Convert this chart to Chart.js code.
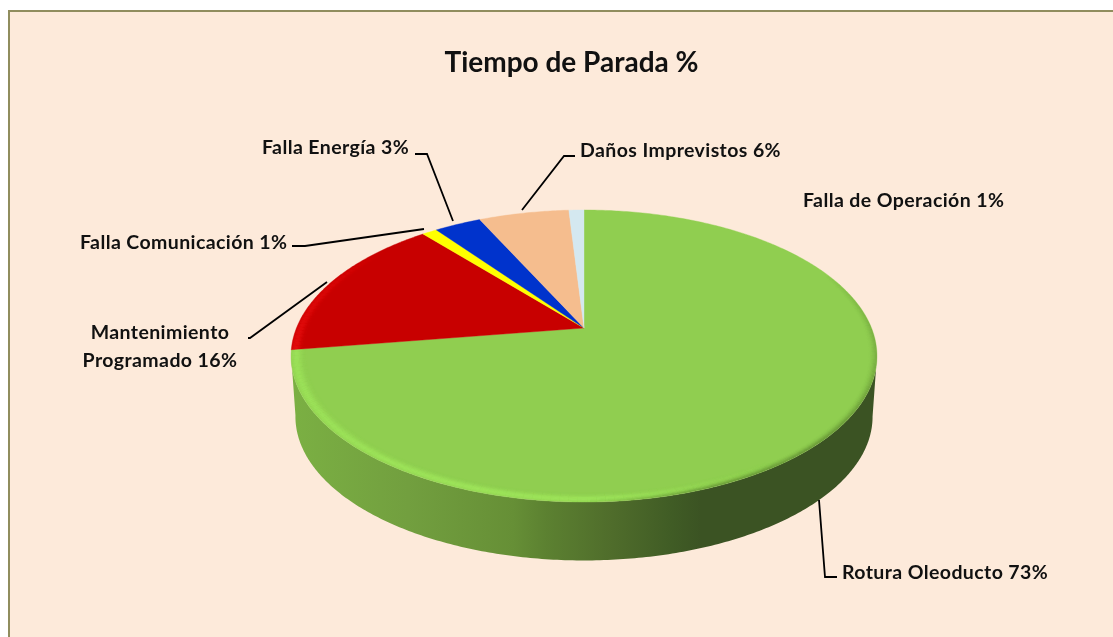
<!DOCTYPE html>
<html lang="es"><head><meta charset="utf-8">
<style>
html,body{margin:0;padding:0;background:#fff;overflow:hidden;width:1113px;height:637px}
#frame{position:absolute;left:8px;top:10px;width:1123px;height:640px;border:2px solid #908D5E;background:#FDEADA}
canvas{display:block}
</style>
<script src="https://cdn.jsdelivr.net/npm/chart.js@4/dist/chart.umd.js"></script>
</head><body>
<div id="frame"><canvas id="c" width="1123" height="640"></canvas></div>
<script>
const chartTitle = 'Tiempo de Parada %';
const categories = ['Rotura Oleoducto','Mantenimiento Programado','Falla Comunicación','Falla Energía','Daños Imprevistos','Falla de Operación'];
const shareValues = [72.6,16.3,1.0,3.1,6.0,1.0];
const sliceColors = ['#90CE50','#C80000','#FFFF00','#0033CC','#F5BD8E','#D4E8F0'];

const labelLayout = [
 {cat:0,x:832,y:561,align:'left',path:[[809,488],[815,565],[827,565]]},
 {cat:1,x:150,y:321,align:'center',path:[[238,326],[240,326],[317,270]]},
 {cat:2,x:70,y:231,align:'left',path:[[282,234],[295,234],[414,217]]},
 {cat:3,x:252,y:136,align:'left',path:[[405,142],[417,142],[443,209]]},
 {cat:4,x:570,y:139,align:'left',path:[[565,144],[554,144],[512,198]]},
 {cat:5,x:793,y:189,align:'left',path:null}
];
const FONT = '"Lato","Carlito",sans-serif';
const OFFX = 12.5, XS = 1.198, YS = 0.586, K = 0.192, DEPTH = 61, SHRINK = 0.985;

function proj(el,t,f=1,dy=0){
  const u=Math.cos(t),v=Math.sin(t),d=1-K*v,r=el.outerRadius;
  return [el.x+OFFX+r*XS*f*u/d, el.y+r*YS*f*v/d+dy];
}
function arcPts(ctx,el,a,b,f,dy,first){
  const n=Math.max(4,Math.ceil(Math.abs(b-a)*90));
  for(let i=0;i<=n;i++){
    const p=proj(el,a+(b-a)*i/n,f,dy);
    if(i===0&&first) ctx.moveTo(p[0],p[1]); else ctx.lineTo(p[0],p[1]);
  }
}
function slicePath(ctx,el){
  ctx.beginPath();ctx.moveTo(el.x+OFFX,el.y);
  arcPts(ctx,el,el.startAngle,el.endAngle,1,0,false);
  ctx.closePath();
}
const rad=d=>d*Math.PI/180;
function lerpStops(st,x){
  if(x<=st[0][0]) return st[0][1];
  for(let i=1;i<st.length;i++) if(x<=st[i][0]){
    const a=st[i-1],b=st[i];return a[1]+(b[1]-a[1])*(x-a[0])/(b[0]-a[0]);
  }
  return st[st.length-1][1];
}
const piePlugin={
 id:'pie3d',
 beforeDatasetsDraw(chart){
  const ctx=chart.ctx,arcs=chart.getDatasetMeta(0).data,g=arcs[0];
  const cx=g.x+OFFX,L=cx-g.outerRadius*XS*1.02,W=g.outerRadius*XS*2.04;
  ctx.save();
  const a0=rad(11),a1=rad(169.5);
  const sg=ctx.createLinearGradient(L,0,L+W,0);
  [[0,'#7BB043'],[.2,'#729F3F'],[.38,'#668F36'],[.435,'#5C8131'],[.55,'#4F6C2B'],[.65,'#405C25'],[.7,'#3B5323'],[1,'#3B5323']]
    .forEach(s=>sg.addColorStop(s[0],s[1]));
  ctx.beginPath();
  arcPts(ctx,g,a0,a1,1,0,true);
  arcPts(ctx,g,a1,a0,SHRINK,DEPTH,false);
  ctx.closePath();ctx.fillStyle=sg;ctx.fill();
  arcs.forEach((el,i)=>{
    slicePath(ctx,el);
    ctx.fillStyle=sliceColors[i];ctx.fill();
    ctx.strokeStyle=sliceColors[i];ctx.lineWidth=.4;ctx.stroke();
  });
  // soft rim: concentric short strokes whose alpha depends on the angle and the inset
  const rim=(el,a,b,rgb,angStops,peak,sigma,amp)=>{
    ctx.save();slicePath(ctx,el);ctx.clip();
    ctx.lineWidth=1.6;
    const step=rad(1.5);
    for(let f=1;f>=0.93;f-=0.004){
      const pa=amp*Math.exp(-Math.pow((f-peak)/sigma,2));
      if(pa<.004) continue;
      for(let t=a;t<b;t+=step){
        const al=pa*lerpStops(angStops,(t+step/2)*180/Math.PI);
        if(al<.003) continue;
        ctx.strokeStyle='rgba('+rgb+','+al+')';
        ctx.beginPath();arcPts(ctx,el,t,Math.min(b,t+step),f,0,true);ctx.stroke();
      }
    }
    ctx.restore();
  };
  rim(g,rad(55),g.endAngle,'170,248,100',[[55,0],[85,.75],[130,.85],[172,1]],.982,.018,.36);
  rim(g,rad(-25),rad(90),'70,105,35',[[-25,0],[5,.6],[40,1],[70,.7],[90,0]],1,.014,.34);
  rim(arcs[1],arcs[1].startAngle,arcs[1].endAngle,'255,25,25',[[170,1],[195,.5],[220,0]],.985,.016,.4);
  ctx.restore();
  return false;
 },
 afterDraw(chart){
  const ctx=chart.ctx;
  ctx.save();
  ctx.fillStyle='#111';ctx.strokeStyle='#000';ctx.lineWidth=1.8;ctx.textBaseline='middle';
  ctx.font='bold 19.5px '+FONT;
  ctx.letterSpacing='0.4px';
  labelLayout.forEach(l=>{
    const i=l.cat,pct=Math.round(shareValues[i])+'%';
    if(l.path){ctx.beginPath();l.path.forEach((p,j)=>j?ctx.lineTo(p[0],p[1]):ctx.moveTo(p[0],p[1]));ctx.stroke();}
    ctx.textAlign=l.align;
    if(i===1){
      const parts=categories[i].split(' ');
      ctx.fillText(parts[0],l.x,l.y);
      ctx.fillText(parts[1]+' '+pct,l.x,l.y+28);
    } else ctx.fillText(categories[i]+' '+pct,l.x,l.y);
  });
  ctx.restore();
 }
};
new Chart(document.getElementById('c'),{
 type:'pie',
 data:{labels:categories,datasets:[{data:shareValues,backgroundColor:sliceColors,borderWidth:0}]},
 plugins:[piePlugin],
 options:{
  responsive:false,animation:false,
  layout:{padding:{left:321.5,right:321.5,bottom:84,top:0}},
  plugins:{
   legend:{display:false},tooltip:{enabled:false},
   title:{display:true,text:chartTitle,color:'#111',font:{family:FONT,size:28,weight:'bold',lineHeight:1.2},padding:{top:34,bottom:8.4}}
  }
 }
});
</script>
</body></html>
